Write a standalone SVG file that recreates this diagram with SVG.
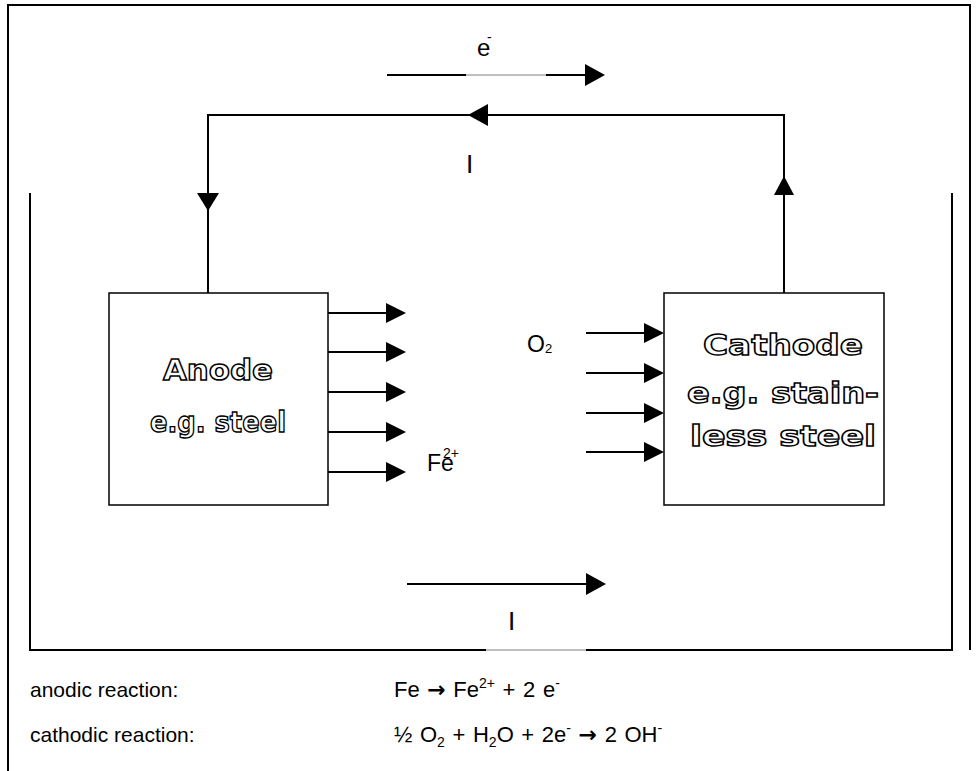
<svg xmlns="http://www.w3.org/2000/svg" width="977" height="771" viewBox="0 0 977 771">
<style>
.ln{stroke:#000;stroke-width:2;fill:none}
.box{stroke:#000;stroke-width:1.5;fill:#fff}
.hd{fill:#000;stroke:none}
.t{font-family:"Liberation Sans",Arial,sans-serif;fill:#000}
.eq{font-size:22px;word-spacing:1.5px}
.ar{font-family:"DejaVu Sans",sans-serif;font-weight:bold}
.ol{font-family:"DejaVu Sans","Liberation Sans",sans-serif;font-weight:bold;font-size:28px;fill:#fff;stroke:#000;stroke-width:1.4;text-anchor:middle}
</style>
<rect width="977" height="771" fill="#fff"/>
<g id="frame">
<path class="ln" d="M8,771 V5 H970 V650"/>
</g>
<g id="electrolyte">
<path class="ln" d="M30,193 V650 H486"/>
<path class="ln" d="M586,650 H952 V193"/>
<line x1="486" y1="650" x2="586" y2="650" stroke="#808080" stroke-width="1"/>
</g>
<g id="anode">
<rect class="box" x="109" y="293" width="219" height="212"/>
<text class="ol" x="218" y="380" textLength="110" lengthAdjust="spacingAndGlyphs">Anode</text>
<text class="ol" x="218" y="432" textLength="136" lengthAdjust="spacingAndGlyphs">e.g. steel</text>
</g>
<g id="cathode">
<rect class="box" x="664" y="293" width="220" height="212"/>
<text class="ol" x="783" y="355" textLength="160" lengthAdjust="spacingAndGlyphs">Cathode</text>
<text class="ol" x="783" y="403" textLength="192" lengthAdjust="spacingAndGlyphs">e.g. stain-</text>
<text class="ol" x="783" y="446" textLength="186" lengthAdjust="spacingAndGlyphs">less steel</text>
</g>
<g id="connectors">
<path class="ln" d="M208,293 V115 H784 V293"/>
<polygon class="hd" points="197,193 219,193 208,211"/>
<polygon class="hd" points="774,195 794,195 784,176"/>
<polygon class="hd" points="468,115 488,104 488,126"/>
<line class="ln" x1="387" y1="75" x2="466" y2="75"/>
<line x1="466" y1="75" x2="546" y2="75" stroke="#808080" stroke-width="1"/>
<line class="ln" x1="546" y1="75" x2="588" y2="75"/>
<polygon class="hd" points="605,75 585,64 585,86"/>
<g id="anode-arrows">
<line class="ln" x1="328" y1="313" x2="388" y2="313"/><polygon class="hd" points="406,313 386,303 386,323"/>
<line class="ln" x1="328" y1="352" x2="388" y2="352"/><polygon class="hd" points="406,352 386,342 386,362"/>
<line class="ln" x1="328" y1="392" x2="388" y2="392"/><polygon class="hd" points="406,392 386,382 386,402"/>
<line class="ln" x1="328" y1="432" x2="388" y2="432"/><polygon class="hd" points="406,432 386,422 386,442"/>
<line class="ln" x1="328" y1="472" x2="388" y2="472"/><polygon class="hd" points="406,472 386,462 386,482"/>
</g>
<g id="cathode-arrows">
<line class="ln" x1="586" y1="333" x2="646" y2="333"/><polygon class="hd" points="664,333 644,323 644,343"/>
<line class="ln" x1="586" y1="373" x2="646" y2="373"/><polygon class="hd" points="664,373 644,363 644,383"/>
<line class="ln" x1="586" y1="413" x2="646" y2="413"/><polygon class="hd" points="664,413 644,403 644,423"/>
<line class="ln" x1="586" y1="452" x2="646" y2="452"/><polygon class="hd" points="664,452 644,442 644,462"/>
</g>
<line class="ln" x1="407" y1="584" x2="588" y2="584"/>
<polygon class="hd" points="606,584 586,573 586,595"/>
</g>
<g id="labels">
<text class="t" x="477" y="56" font-size="24">e</text>
<text class="t" x="487" y="42" font-size="14">-</text>
<text class="t" x="466" y="173" font-size="26">I</text>
<text class="t" x="427" y="471" font-size="23">Fe</text>
<text class="t" x="443" y="458" font-size="14">2+</text>
<text class="t" x="527" y="352" font-size="23">O</text>
<text class="t" x="545" y="353" font-size="13">2</text>
<text class="t" x="508" y="630" font-size="26">I</text>
<text class="t" x="30" y="697" font-size="21">anodic reaction:</text>
<text class="t" x="30" y="742" font-size="21">cathodic reaction:</text>
<text class="t eq" x="394" y="697">Fe <tspan class="ar">→</tspan> Fe<tspan font-size="14" dy="-9">2+</tspan><tspan dy="9"> + 2 e</tspan><tspan font-size="14" dy="-9">-</tspan></text>
<text class="t eq" x="394" y="742">½ O<tspan font-size="14" dy="5">2</tspan><tspan dy="-5"> + H</tspan><tspan font-size="14" dy="5">2</tspan><tspan dy="-5">O + 2e</tspan><tspan font-size="14" dy="-9">-</tspan><tspan dy="9"> </tspan><tspan class="ar">→</tspan> 2 OH<tspan font-size="14" dy="-9">-</tspan></text>
</g>
</svg>
